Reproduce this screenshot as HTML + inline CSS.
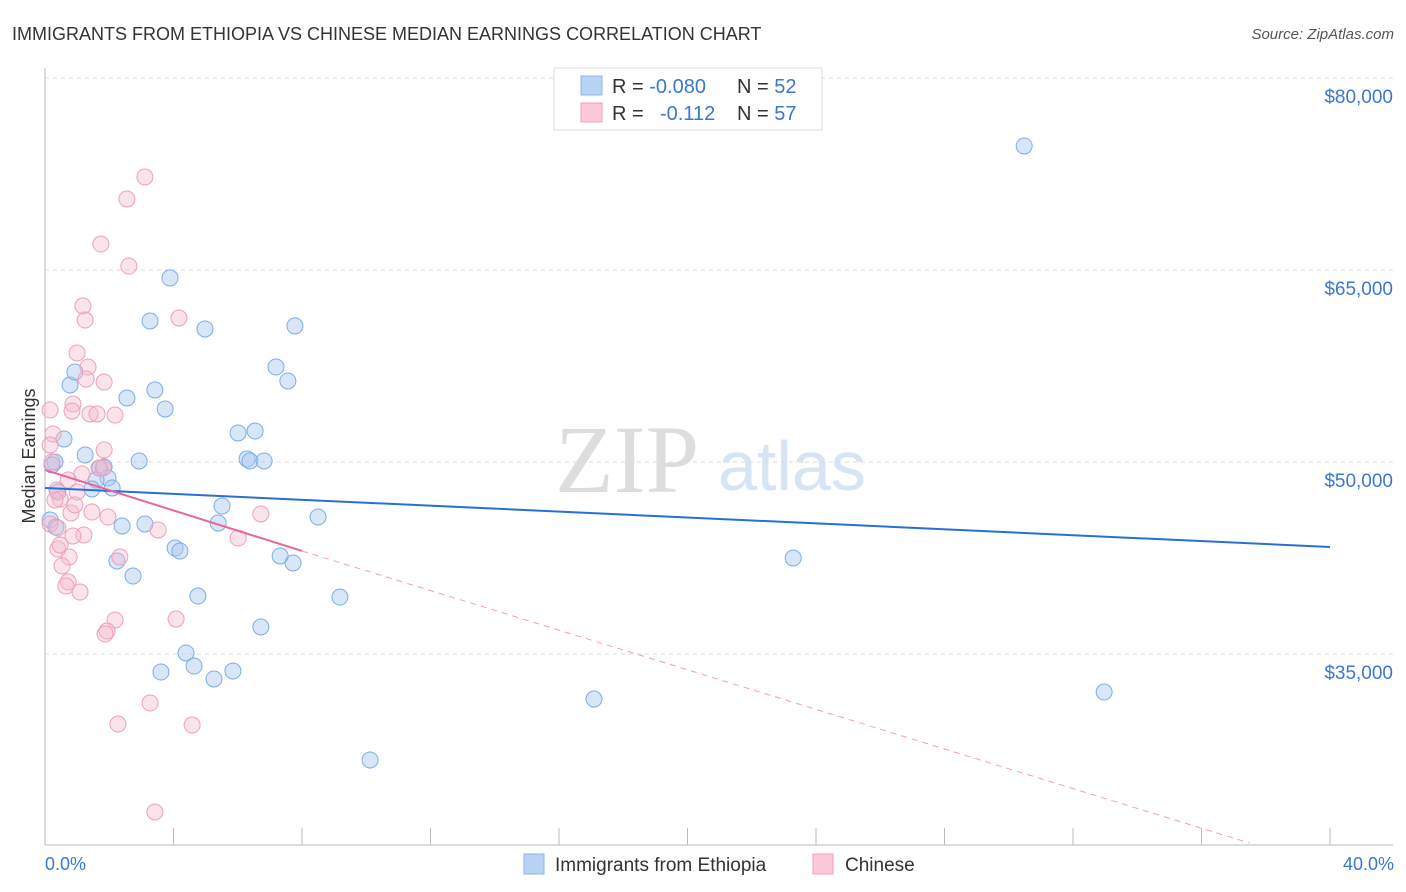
<!DOCTYPE html>
<html><head><meta charset="utf-8"><style>
body{margin:0;background:#fff;font-family:"Liberation Sans",sans-serif;}
svg{display:block}
</style></head><body>
<svg width="1406" height="892">
<text x="12" y="40" font-size="18" fill="#333">IMMIGRANTS FROM ETHIOPIA VS CHINESE MEDIAN EARNINGS CORRELATION CHART</text>
<text x="1394" y="39" font-size="15" fill="#555" font-style="italic" text-anchor="end">Source: ZipAtlas.com</text>
<text x="555" y="492" font-size="96" fill="#ddd" font-family="Liberation Serif,serif">ZIP</text>
<text x="718" y="490" font-size="70" fill="#d6e4f3">atlas</text>
<g id="grid"></g>
<g id="axes"></g>
<g id="marks"></g>
<text transform="translate(35,456) rotate(-90)" font-size="18" fill="#333" text-anchor="middle">Median Earnings</text>
<text x="45" y="870" font-size="18" fill="#3a78d0">0.0%</text>
<text x="1394" y="870" font-size="18" fill="#3a78d0" text-anchor="end">40.0%</text>
<g>
<rect x="554" y="68" width="268" height="62" fill="#fff" stroke="#ddd"/>
<rect x="581" y="76" width="21" height="19" fill="#b8d3f4" stroke="#8db6ea"/>
<rect x="581" y="103" width="21" height="19" fill="#fbc9d8" stroke="#f0a0b8"/>
<text x="612" y="93" font-size="20" fill="#333">R = <tspan fill="#3a78d0">-0.080</tspan></text>
<text x="737" y="93" font-size="20" fill="#333">N = <tspan fill="#3a78d0">52</tspan></text>
<text x="612" y="120" font-size="20" fill="#333">R = <tspan fill="#3a78d0" x="660">-0.112</tspan></text>
<text x="737" y="120" font-size="20" fill="#333">N = <tspan fill="#3a78d0">57</tspan></text>
</g>
<g>
<rect x="524" y="854" width="20" height="20" fill="#b8d3f4" stroke="#8db6ea"/>
<text x="555" y="871" font-size="19" fill="#333">Immigrants from Ethiopia</text>
<rect x="813" y="854" width="20" height="20" fill="#fbc9d8" stroke="#f0a0b8"/>
<text x="845" y="871" font-size="19" fill="#333">Chinese</text>
</g>
</svg>
<script>
const yTicks=[35000,50000,65000,80000];
const xTicks=[0,4,8,12,16,20,24,28,32,36,40];
const blueX=[30.48,3.89,3.27,4.98,7.78,7.19,7.56,0.78,0.93,3.42,2.55,3.74,0.59,6.01,6.54,0.31,1.25,2.93,6.29,6.38,6.82,0.22,1.71,1.84,1.96,1.59,2.09,1.46,0.40,5.51,8.50,0.16,0.34,2.40,3.11,5.39,4.05,4.20,7.32,7.72,2.24,2.74,23.29,4.76,9.18,6.72,4.39,4.64,3.61,5.26,5.85,17.09,32.97,10.12];
const blueY=[74.69,64.38,61.02,60.39,60.63,57.42,56.33,56.02,57.03,55.63,55.0,54.14,51.8,52.27,52.42,50.0,50.55,50.08,50.23,50.08,50.08,49.77,49.53,49.61,48.75,48.59,47.97,47.89,47.66,46.56,45.7,45.47,44.92,45.0,45.16,45.23,43.28,43.05,42.66,42.11,42.27,41.09,42.5,39.53,39.45,37.11,35.08,34.06,33.59,33.05,33.67,31.48,32.03,26.72];
const pinkX=[3.11,2.55,1.74,2.61,1.18,1.25,4.17,1.0,1.34,1.28,1.84,0.87,0.16,0.84,1.40,1.62,2.18,0.25,1.84,0.16,0.22,1.68,1.81,1.15,0.72,0.37,1.0,0.47,1.46,0.81,1.96,3.52,0.16,0.40,1.21,0.87,6.01,6.72,0.40,0.75,2.33,0.53,0.72,0.65,1.09,2.18,1.93,1.87,4.08,2.27,3.27,4.58,3.42,0.47,0.31,0.93];
const pinkY=[72.27,70.55,67.03,65.31,62.19,61.09,61.25,58.52,57.42,56.48,56.25,54.53,54.06,53.98,53.75,53.75,53.67,52.19,50.94,51.33,50.0,49.53,49.53,49.06,48.59,47.81,47.66,47.11,46.09,46.02,45.7,44.69,45.16,44.84,44.3,44.22,44.06,45.94,43.2,42.58,42.58,41.88,40.63,40.31,39.84,37.66,36.8,36.56,37.73,29.53,31.17,29.45,22.66,43.52,47.03,46.64];
const blueTrend=[47.97,43.36];
const pinkTrend=[49.38,43.05,20.23];
const pinkTrendX=[0,8,37.5];
const NS='http://www.w3.org/2000/svg';
const xs=v=>45+v*(1285/40);
const ys=v=>78+(80-v)*12.8;
function mk(tag,attrs,parent){const e=document.createElementNS(NS,tag);for(const k in attrs)e.setAttribute(k,attrs[k]);document.getElementById(parent).appendChild(e);return e;}
yTicks.forEach(t=>{
  const l=mk('line',{x1:45,x2:1393,y1:ys(t/1000),y2:ys(t/1000),stroke:'#ddd','stroke-dasharray':'4,4'},'grid');
  
  
  const tx=mk('text',{x:1393,y:ys(t/1000)+25,'font-size':19,fill:'#3a78d0','text-anchor':'end'},'grid');
  tx.textContent='$'+t.toLocaleString('en-US');
  
  
});
const g0=mk('line',{x1:45,x2:1393,y1:78,y2:78,stroke:'#ddd','stroke-dasharray':'4,4'},'grid');


const ya=mk('line',{x1:45,x2:45,y1:68,y2:845,stroke:'#bbb'},'axes');


const xa=mk('line',{x1:45,x2:1393,y1:845,y2:845,stroke:'#bbb'},'axes');


xTicks.forEach(t=>{
  const l=mk('line',{x1:xs(t),x2:xs(t),y1:828,y2:845,stroke:'#bbb'},'axes');
  
  
});
blueX.forEach((v,i)=>{
  const c=mk('circle',{cx:xs(v),cy:ys(blueY[i]),r:8,fill:'rgba(168,200,240,0.45)',stroke:'#7aaee8','stroke-width':1},'marks');
  
  
});
pinkX.forEach((v,i)=>{
  const c=mk('circle',{cx:xs(v),cy:ys(pinkY[i]),r:8,fill:'rgba(245,184,204,0.4)',stroke:'#f0a0b8','stroke-width':1},'marks');
  
  
});
const bt=mk('line',{x1:xs(0),y1:ys(blueTrend[0]),x2:xs(40),y2:ys(blueTrend[1]),stroke:'#2a6fd6','stroke-width':2},'marks');


const pt=mk('line',{x1:xs(pinkTrendX[0]),y1:ys(pinkTrend[0]),x2:xs(pinkTrendX[1]),y2:ys(pinkTrend[1]),stroke:'#e8679a','stroke-width':2},'marks');


const pd=mk('line',{x1:xs(pinkTrendX[1]),y1:ys(pinkTrend[1]),x2:xs(pinkTrendX[2]),y2:ys(pinkTrend[2]),stroke:'#f0a0b8','stroke-width':1,'stroke-dasharray':'6,5'},'marks');


</script>
</body></html>
